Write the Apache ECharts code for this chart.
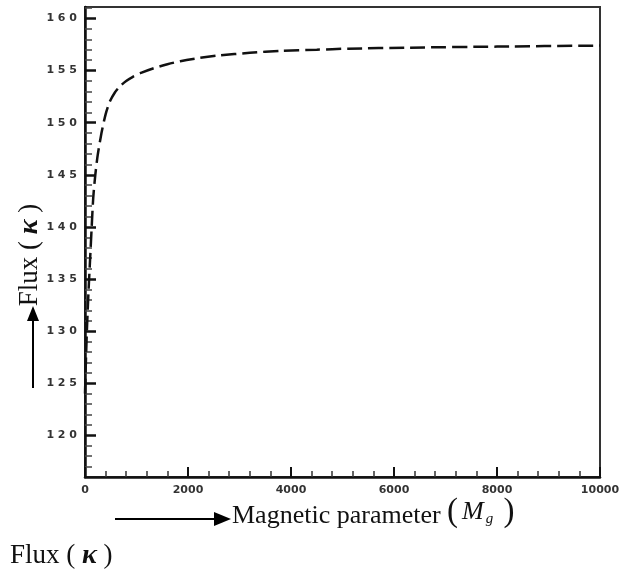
<!DOCTYPE html>
<html>
<head>
<meta charset="utf-8">
<script src="https://cdn.jsdelivr.net/npm/echarts@6/dist/echarts.min.js"></script>
<style>html,body{margin:0;padding:0;background:#fff;}#c{width:629px;height:573px;}</style>
</head>
<body>
<div id="c"></div>
<script>
const mgValues = [0, 20, 40, 70, 100, 130, 160, 200, 250, 320, 400, 480, 580, 680, 800, 930, 1100, 1320, 1600, 1850, 2200, 2600, 3200, 3800, 4500, 5100, 6300, 8000, 10000];
const fluxValues = [124, 127.5, 130.5, 134, 137, 140, 142.8, 145, 147, 149, 150.8, 152, 152.9, 153.5, 154, 154.4, 154.8, 155.2, 155.6, 155.9, 156.2, 156.45, 156.7, 156.9, 157.0, 157.1, 157.2, 157.3, 157.4];
const yMajorTicks = [120, 125, 130, 135, 140, 145, 150, 155, 160];
const yTickLabels = ['1 2 0', '1 2 5', '1 3 0', '1 3 5', '1 4 0', '1 4 5', '1 5 0', '1 5 5', '1 6 0'];
const yMinorTicks = [117, 118, 119, 121, 122, 123, 124, 126, 127, 128, 129, 131, 132, 133, 134, 136, 137, 138, 139, 141, 142, 143, 144, 146, 147, 148, 149, 151, 152, 153, 154, 156, 157, 158, 159, 161];
const xTickLabels = ['0', '2000', '4000', '6000', '8000', '10000'];

const chart = echarts.init(document.getElementById('c'), null, {renderer: 'canvas'});
const serif = '"Liberation Serif", "Times New Roman", serif';
const tickFont = {fontFamily: '"DejaVu Sans", Arial, sans-serif', fontSize: 11, fontWeight: 'bold', color: '#333'};

chart.setOption({
  animation: false,
  backgroundColor: '#fff',
  grid: {left: 85, top: 7, width: 515, height: 470, show: true, borderColor: '#333', borderWidth: 2, backgroundColor: 'transparent'},
  xAxis: {
    type: 'value', min: 0, max: 10000, interval: 2000,
    axisLine: {lineStyle: {color: '#111', width: 2.5}},
    axisTick: {inside: true, length: 10, lineStyle: {color: '#111', width: 2}},
    minorTick: {show: true, splitNumber: 5, length: 6, lineStyle: {color: '#333', width: 1.5}},
    splitLine: {show: false},
    axisLabel: Object.assign({margin: 8, formatter: v => xTickLabels[Math.round(v / 2000)] || ''}, tickFont)
  },
  yAxis: [{
    type: 'value', min: 116, max: 161.1,
    axisLine: {show: true, lineStyle: {color: '#111', width: 2.5}},
    axisTick: {show: true, inside: true, length: 11, customValues: yMajorTicks, lineStyle: {color: '#111', width: 2.5}},
    splitLine: {show: false},
    axisLabel: Object.assign({margin: 8, customValues: yMajorTicks,
      formatter: v => yTickLabels[yMajorTicks.indexOf(Math.round(v))] || ''}, tickFont)
  }, {
    type: 'value', min: 116, max: 161.1, position: 'left',
    axisLine: {show: false},
    axisTick: {show: true, inside: true, length: 7, customValues: yMinorTicks, lineStyle: {color: '#444', width: 1.5}},
    splitLine: {show: false},
    axisLabel: {show: false}
  }],
  series: [{
    type: 'line',
    yAxisIndex: 0,
    data: mgValues.map((m, i) => [m, fluxValues[i]]),
    smooth: 0.25,
    showSymbol: false,
    lineStyle: {color: '#111', width: 2.5, type: [15, 6]}
  }],
  graphic: [
    {type: 'line', shape: {x1: 33, y1: 388, x2: 33, y2: 318}, style: {stroke: '#000', lineWidth: 2}},
    {type: 'polygon', shape: {points: [[27, 321], [39, 321], [33, 306]]}, style: {fill: '#000'}},
    {type: 'text', x: 30, y: 255, rotation: Math.PI / 2,
      style: {text: '{a|Flux ( }{k|κ}{a| )}', align: 'center', verticalAlign: 'middle',
        rich: {a: {fontFamily: serif, fontSize: 27, fill: '#111'}, k: {fontFamily: serif, fontSize: 28, fontStyle: 'italic', fontWeight: 'bold', fill: '#111'}}}},
    {type: 'line', shape: {x1: 115, y1: 519, x2: 216, y2: 519}, style: {stroke: '#000', lineWidth: 2}},
    {type: 'polygon', shape: {points: [[214, 512], [214, 526], [231, 519]]}, style: {fill: '#000'}},
    {type: 'text', x: 232, y: 529,
      style: {
        text: '{t|Magnetic parameter }{p|(}{m|M}{g|g}{p| )}',
        verticalAlign: 'bottom', align: 'left',
        rich: {
          t: {fontFamily: serif, fontSize: 26, fill: '#111', verticalAlign: 'bottom'},
          p: {fontFamily: serif, fontSize: 33, fill: '#111', verticalAlign: 'bottom'},
          m: {fontFamily: serif, fontSize: 26, fontStyle: 'italic', fill: '#111', padding: [0, 2, 0, 4]},
          g: {fontFamily: serif, fontSize: 15, fontStyle: 'italic', fill: '#111', padding: [0, 2, -14, 0]}
        }
      }},
    {type: 'text', x: 10, y: 570,
      style: {text: '{a|Flux ( }{k|κ}{a| )}', align: 'left', verticalAlign: 'bottom',
        rich: {a: {fontFamily: serif, fontSize: 27, fill: '#111'}, k: {fontFamily: serif, fontSize: 28, fontStyle: 'italic', fontWeight: 'bold', fill: '#111'}}}}
  ]
});
</script>
</body>
</html>
